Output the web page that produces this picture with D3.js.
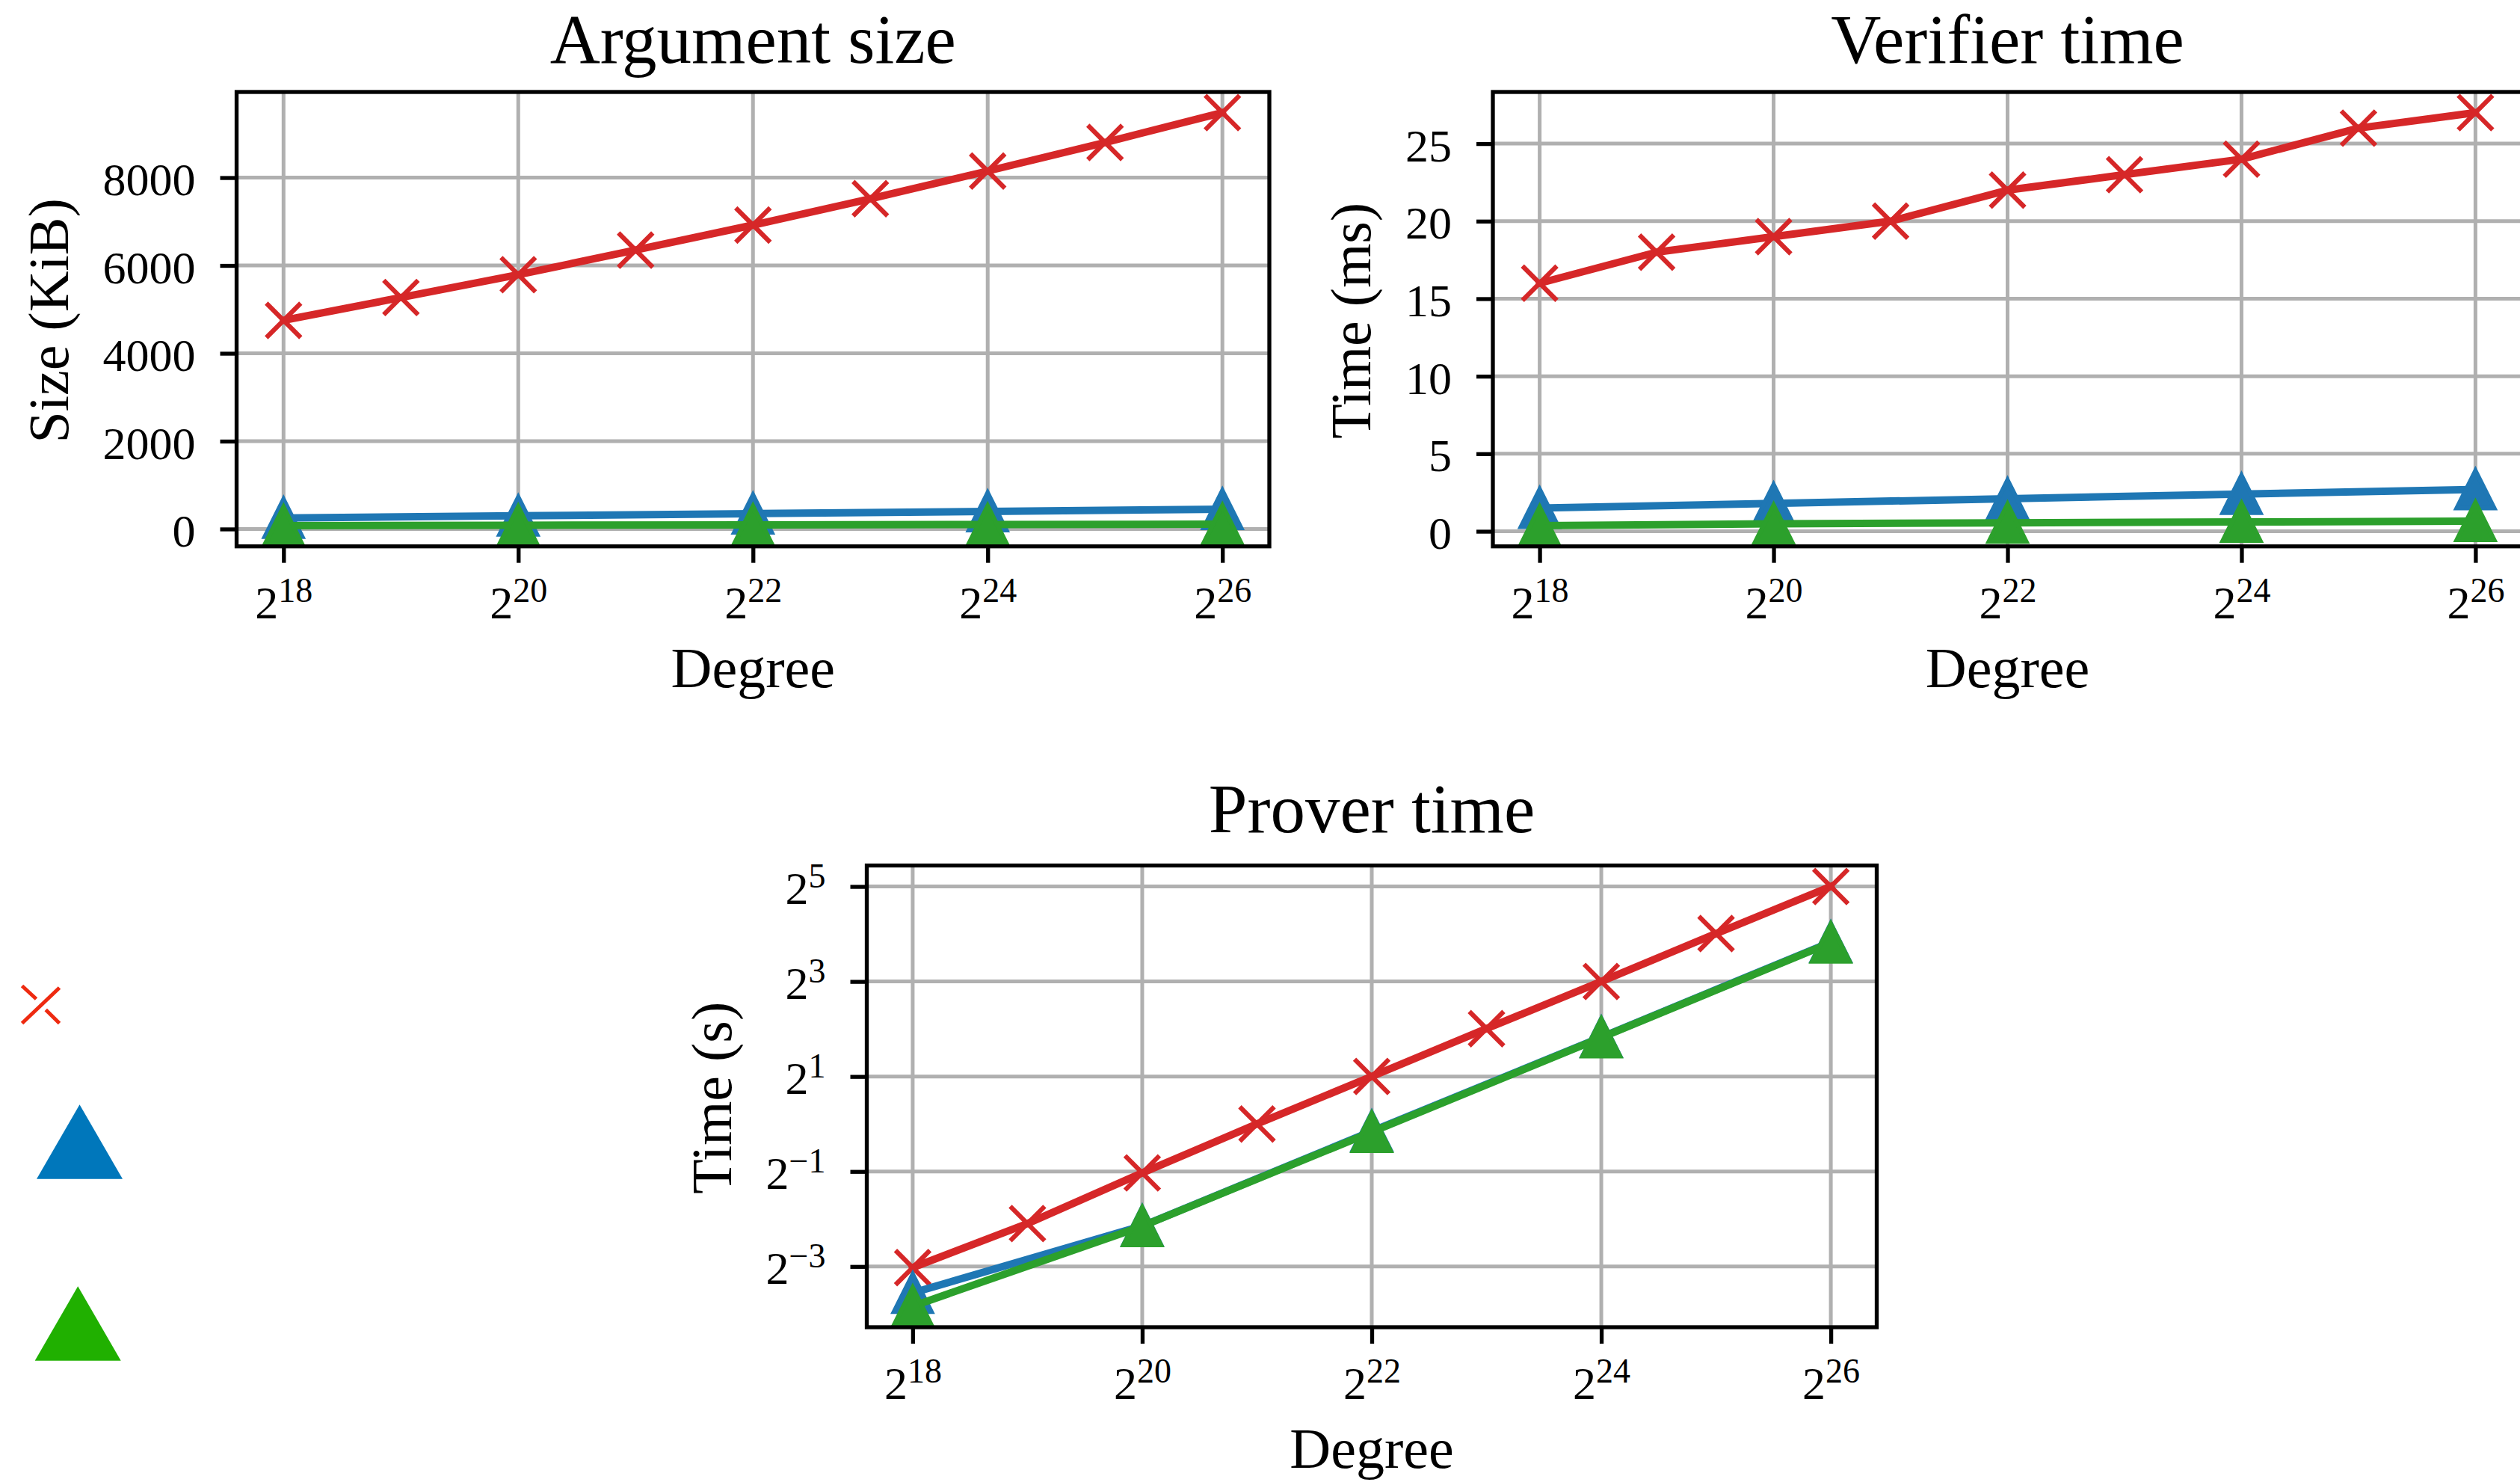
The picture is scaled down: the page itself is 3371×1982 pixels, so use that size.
<!DOCTYPE html>
<html>
<head>
<meta charset="utf-8">
<script src="https://cdn.jsdelivr.net/npm/d3@7"></script>
<style>
  body { margin: 0; background: #fff; }
  svg { display: block; }
  text { font-family: "Liberation Serif", "Times New Roman", serif; fill: #000; }
</style>
</head>
<body>
<svg id="fig" width="3371" height="1982"></svg>
<script>
// ---- data -------------------------------------------------------------
// polynomial degree exponents (x = 2^d)
const degrees = [18, 19, 20, 21, 22, 23, 24, 25, 26];
const evenDegrees = [18, 20, 22, 24, 26];
const xTickExponents = [18, 20, 22, 24, 26];

// argument size (KiB)
const sizeRed = [4750, 5270, 5790, 6350, 6920, 7520, 8150, 8800, 9480];
const sizeBlue = [250, 300, 350, 400, 450];
const sizeGreen = [75, 85, 95, 102, 110];
const sizeTicks = [0, 2000, 4000, 6000, 8000];

// verifier time (ms)
const verifierRed = [16, 18, 19, 20, 22, 23, 24, 26, 27];
const verifierBlue = [1.5, 1.8, 2.1, 2.4, 2.7];
const verifierGreen = [0.36, 0.48, 0.55, 0.6, 0.65];
const verifierTicks = [0, 5, 10, 15, 20, 25];

// prover time (s)
const proverRed = [0.123, 0.234, 0.49, 1.0, 2.0, 4.02, 8.0, 16.1, 32.0];
const proverBlue = [0.085, 0.226, 0.9, 3.55, 14.2];
const proverGreen = [0.070, 0.225, 0.89, 3.53, 14.1];
const proverTickExponents = [-3, -1, 1, 3, 5];

// ---- styling ----------------------------------------------------------
const COLORS = { red: "#d62728", blue: "#1f77b4", green: "#2ca02c" };
const LEGEND_COLORS = { red: "#ee2a10", blue: "#0077bb", green: "#20b000" };
const FS_TICK = 62, FS_SUP = 46, FS_LABEL = 76, FS_TITLE = 93;
const SPINE_W = 5.3, GRID_W = 5, LINE_W = 10, TICK_LEN = 22;

const svg = d3.select("#fig");
svg.append("rect").attr("width", 3371).attr("height", 1982).attr("fill", "#fff");

const panels = [
  {
    key: "size", title: "Argument size", ylabel: "Size (KiB)",
    box: { x: 316.5, y: 123, w: 1381.5, h: 607.7 },
    log: false, yTicks: sizeTicks,
    series: [
      { xs: degrees, ys: sizeRed, color: "red", marker: "x" },
      { xs: evenDegrees, ys: sizeBlue, color: "blue", marker: "tri" },
      { xs: evenDegrees, ys: sizeGreen, color: "green", marker: "tri" }
    ]
  },
  {
    key: "verifier", title: "Verifier time", ylabel: "Time (ms)",
    box: { x: 1997, y: 123, w: 1377, h: 607.7 },
    log: false, yTicks: verifierTicks,
    series: [
      { xs: degrees, ys: verifierRed, color: "red", marker: "x" },
      { xs: evenDegrees, ys: verifierBlue, color: "blue", marker: "tri" },
      { xs: evenDegrees, ys: verifierGreen, color: "green", marker: "tri" }
    ]
  },
  {
    key: "prover", title: "Prover time", ylabel: "Time (s)",
    box: { x: 1159.5, y: 1157.5, w: 1351, h: 617.5 },
    log: true, yTicks: proverTickExponents.map(e => Math.pow(2, e)),
    series: [
      { xs: degrees, ys: proverRed, color: "red", marker: "x" },
      { xs: evenDegrees, ys: proverBlue, color: "blue", marker: "tri" },
      { xs: evenDegrees, ys: proverGreen, color: "green", marker: "tri" }
    ]
  }
];

// "2" with a raised exponent
function powerLabel(textSel, exp) {
  textSel.text(null);
  textSel.append("tspan").attr("font-size", FS_TICK).text("2");
  textSel.append("tspan").attr("font-size", FS_SUP).attr("dy", -22)
    .text(exp < 0 ? "\u2212" + (-exp) : String(exp));
}

// padded extent, 5% each side (in log2 space for log axes)
function padded(lo, hi) {
  const r = hi - lo;
  return [lo - 0.05 * r, hi + 0.05 * r];
}

function markerPath(kind) {
  if (kind === "x") {
    const r = 23;
    return `M${-r},${-r}L${r},${r}M${-r},${r}L${r},${-r}`;
  }
  const r = 25;
  return `M0,${-r}L${r},${r}L${-r},${r}Z`;
}

panels.forEach(p => {
  const { x: bx, y: by, w, h } = p.box;
  const g = svg.append("g").attr("transform", `translate(${bx},${by})`);

  const [dLo, dHi] = padded(d3.min(degrees), d3.max(degrees));
  const x = d3.scaleLog().base(2).domain([Math.pow(2, dLo), Math.pow(2, dHi)]).range([0, w]);

  const allY = p.series.flatMap(s => s.ys);
  let y;
  if (p.log) {
    const [lo, hi] = padded(Math.log2(d3.min(allY)), Math.log2(d3.max(allY)));
    y = d3.scaleLog().base(2).domain([Math.pow(2, lo), Math.pow(2, hi)]).range([h, 0]);
  } else {
    const [lo, hi] = padded(d3.min(allY), d3.max(allY));
    y = d3.scaleLinear().domain([lo, hi]).range([h, 0]);
  }

  const xTickVals = xTickExponents.map(e => Math.pow(2, e));

  // grid
  const grid = g.append("g").attr("stroke", "#b0b0b0").attr("stroke-width", GRID_W);
  grid.selectAll(".gx").data(xTickVals).join("line")
    .attr("x1", d => x(d)).attr("x2", d => x(d)).attr("y1", 0).attr("y2", h);
  grid.selectAll(".gy").data(p.yTicks).join("line")
    .attr("x1", 0).attr("x2", w).attr("y1", d => y(d)).attr("y2", d => y(d));

  // data, clipped to the axes area
  const clipId = `clip-${p.key}`;
  g.append("clipPath").attr("id", clipId)
    .append("rect").attr("width", w).attr("height", h);
  const plot = g.append("g").attr("clip-path", `url(#${clipId})`);

  p.series.forEach(s => {
    const pts = s.xs.map((d, i) => [x(Math.pow(2, d)), y(s.ys[i])]);
    const col = COLORS[s.color];
    plot.append("path")
      .attr("d", d3.line()(pts))
      .attr("fill", "none").attr("stroke", col)
      .attr("stroke-width", LINE_W).attr("stroke-linejoin", "round").attr("stroke-linecap", "square");
    plot.selectAll(null).data(pts).join("path")
      .attr("transform", d => `translate(${d[0]},${d[1]})`)
      .attr("d", markerPath(s.marker))
      .attr("fill", s.marker === "x" ? "none" : col)
      .attr("stroke", col)
      .attr("stroke-width", s.marker === "x" ? 6.2 : 6)
      .attr("stroke-linejoin", "miter")
      .attr("stroke-linecap", "butt");
  });

  // x axis
  const xAxis = g.append("g").attr("transform", `translate(0,${h})`)
    .call(d3.axisBottom(x).tickValues(xTickVals).tickSize(TICK_LEN).tickSizeOuter(0).tickFormat(() => ""));
  xAxis.select(".domain").remove();
  xAxis.selectAll(".tick line").attr("stroke", "#000").attr("stroke-width", SPINE_W);
  xAxis.selectAll(".tick text").each(function (d) {
    const t = d3.select(this).attr("y", 96).attr("dy", null).attr("fill", "#000");
    powerLabel(t, Math.round(Math.log2(d)));
  });
  xAxis.attr("font-family", null).attr("font-size", null);

  // y axis
  const yAxis = g.append("g")
    .call(d3.axisLeft(y).tickValues(p.yTicks).tickSize(TICK_LEN).tickSizeOuter(0)
      .tickFormat(p.log ? () => "" : d3.format("d")));
  yAxis.select(".domain").remove();
  yAxis.attr("font-family", null).attr("font-size", null);
  yAxis.selectAll(".tick line").attr("stroke", "#000").attr("stroke-width", SPINE_W);
  yAxis.selectAll(".tick text").each(function (d) {
    const t = d3.select(this).attr("x", -55).attr("y", 23).attr("dy", null)
      .attr("fill", "#000").attr("font-size", FS_TICK);
    if (p.log) powerLabel(t, Math.round(Math.log2(d)));
  });

  // spines
  g.append("rect").attr("width", w).attr("height", h)
    .attr("fill", "none").attr("stroke", "#000").attr("stroke-width", SPINE_W);

  // title, kept inside the page's top edge
  const titleY = Math.max(by - 45, 84) - by;
  g.append("text").attr("x", w / 2).attr("y", titleY)
    .attr("text-anchor", "middle").attr("font-size", FS_TITLE).text(p.title);

  // x label
  g.append("text").attr("x", w / 2).attr("y", h + 188)
    .attr("text-anchor", "middle").attr("font-size", FS_LABEL).text("Degree");

  // y label, placed just left of the tick labels
  const tickBox = yAxis.node().getBBox();
  const lx = tickBox.x - 47;
  g.append("text")
    .attr("transform", `translate(${lx},${h / 2 + 2}) rotate(-90)`)
    .attr("text-anchor", "middle").attr("font-size", FS_LABEL).text(p.ylabel);
});

// ---- legend markers ---------------------------------------------------
const legendItems = [
  { kind: "x", color: "red", cx: 54.5, cy: 1343.5, size: 54 },
  { kind: "tri", color: "blue", cx: 106.5, cy: 1527, size: 115 },
  { kind: "tri", color: "green", cx: 104.2, cy: 1770, size: 115 }
];
const legend = svg.append("g");
legendItems.forEach(it => {
  const col = LEGEND_COLORS[it.color];
  if (it.kind === "x") {
    const r = it.size / 2 - 2;
    const gx = legend.append("g").attr("transform", `translate(${it.cx},${it.cy})`)
      .attr("stroke", col).attr("stroke-width", 5).attr("fill", "none");
    gx.append("line").attr("x1", -r).attr("y1", r).attr("x2", r).attr("y2", -r * 0.9);
    gx.append("line").attr("x1", -r).attr("y1", -r).attr("x2", -r * 0.24).attr("y2", -r * 0.3);
    gx.append("line").attr("x1", r * 0.27).attr("y1", r * 0.28).attr("x2", r).attr("y2", r);
  } else {
    const half = it.size / 2, ht = it.size * Math.sqrt(3) / 2;
    legend.append("path")
      .attr("d", `M${it.cx},${it.cy - ht / 2}L${it.cx + half},${it.cy + ht / 2}L${it.cx - half},${it.cy + ht / 2}Z`)
      .attr("fill", col);
  }
});
</script>
</body>
</html>
